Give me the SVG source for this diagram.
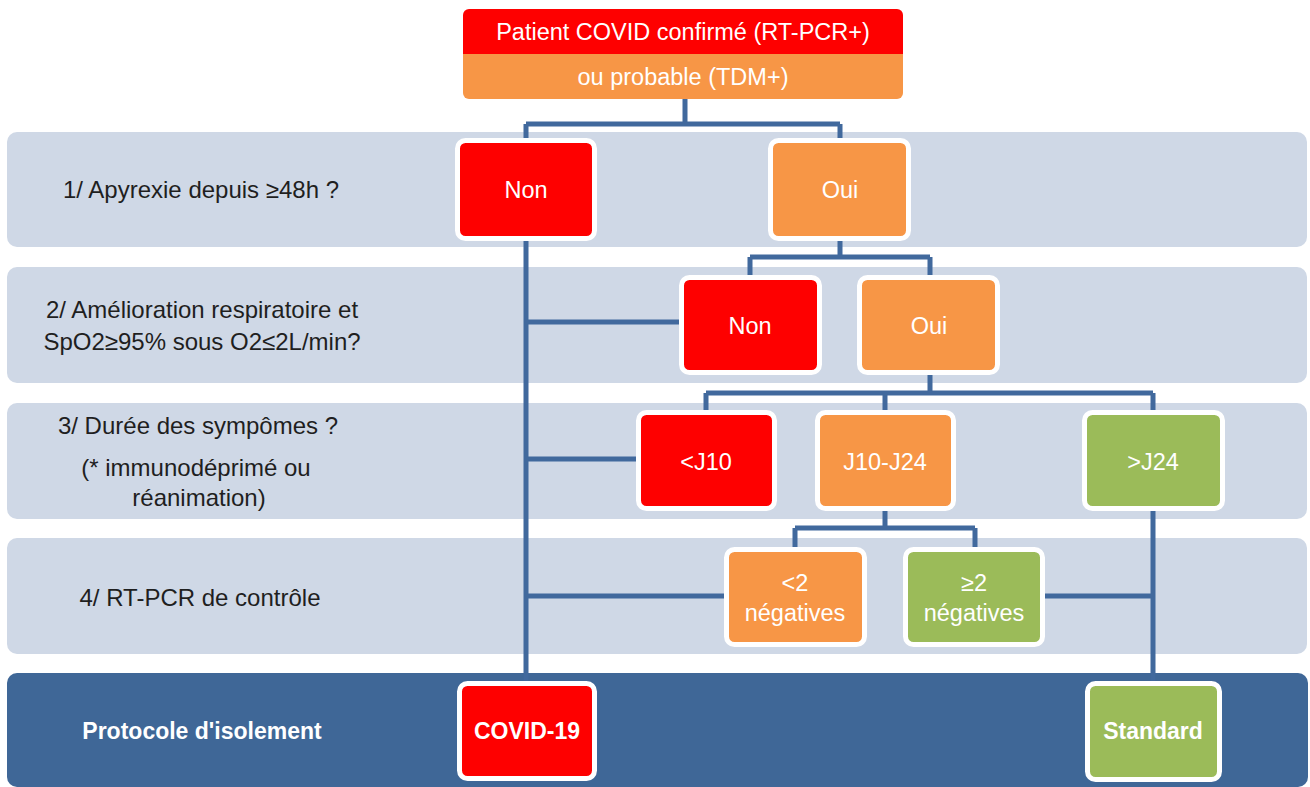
<svg xmlns="http://www.w3.org/2000/svg" width="1310" height="787" viewBox="0 0 1310 787">
<style>
.band{fill:#cfd8e6}
.bandd{fill:#3f6797}
.lbl{font-family:"Liberation Sans",Arial,sans-serif;font-size:24px;fill:#1f1f1f;text-anchor:middle}
.lblw{font-family:"Liberation Sans",Arial,sans-serif;font-size:23px;font-weight:bold;fill:#ffffff;text-anchor:middle}
.nt{font-family:"Liberation Sans",Arial,sans-serif;font-size:23.5px;fill:#ffffff;text-anchor:middle}
.ntb{font-family:"Liberation Sans",Arial,sans-serif;font-size:23px;font-weight:bold;fill:#ffffff;text-anchor:middle}
.red{fill:#fe0000;stroke:#ffffff;stroke-width:5}
.org{fill:#f79646;stroke:#ffffff;stroke-width:5}
.grn{fill:#9bbb59;stroke:#ffffff;stroke-width:5}
.con path{fill:none;stroke:#41699d;stroke-width:5}
</style>
<rect width="1310" height="787" fill="#ffffff"/>
<g id="bands">
<rect class="band" x="7" y="132" width="1300" height="115" rx="10"/>
<rect class="band" x="7" y="267" width="1300" height="116" rx="10"/>
<rect class="band" x="7" y="403" width="1300" height="116" rx="10"/>
<rect class="band" x="7" y="538" width="1300" height="116" rx="10"/>
<rect class="bandd" x="7" y="673" width="1301" height="114" rx="10"/>
</g>
<g id="labels">
<text class="lbl" x="201" y="198">1/ Apyrexie depuis ≥48h ?</text>
<text class="lbl" x="202" y="318">2/ Amélioration respiratoire et</text>
<text class="lbl" x="202" y="350">SpO2≥95% sous O2≤2L/min?</text>
<text class="lbl" x="198" y="434">3/ Durée des sympômes ?</text>
<text class="lbl" x="196" y="476">(* immunodéprimé ou</text>
<text class="lbl" x="199" y="506">réanimation)</text>
<text class="lbl" x="200" y="606">4/ RT-PCR de contrôle</text>
<text class="lblw" x="202" y="739">Protocole d'isolement</text>
</g>
<g id="connectors" class="con">
<path d="M685 99V124M526 124H840M526 124V140M840 124V140"/>
<path d="M526 238V684M526 322H682M526 459H639M526 596H727"/>
<path d="M840 238V257M750 257H930M750 257V277M930 257V277"/>
<path d="M930 373V393M706 393H1153M706 393V412M885 393V412M1153 393V412"/>
<path d="M885 509V528M795 528H975M795 528V549M975 528V549"/>
<path d="M1153 509V684M1042 596H1153"/>
</g>
<g id="header">
<path d="M463 54V15a6 6 0 0 1 6-6H897a6 6 0 0 1 6 6V54Z" fill="#fe0000"/>
<path d="M463 54H903V93a6 6 0 0 1-6 6H469a6 6 0 0 1-6-6Z" fill="#f79646"/>
<text class="nt" x="683" y="40">Patient COVID confirmé (RT-PCR+)</text>
<text class="nt" x="683" y="85">ou probable (TDM+)</text>
</g>
<g id="n-non1"><rect class="red" x="457.5" y="140.5" width="137" height="98" rx="8"/><text class="nt" x="526" y="198">Non</text></g>
<g id="n-oui1"><rect class="org" x="770.5" y="140.5" width="138" height="98" rx="8"/><text class="nt" x="840" y="198">Oui</text></g>
<g id="n-non2"><rect class="red" x="681.5" y="277.5" width="138" height="95" rx="8"/><text class="nt" x="750" y="334">Non</text></g>
<g id="n-oui2"><rect class="org" x="859.5" y="277.5" width="138" height="95" rx="8"/><text class="nt" x="929" y="334">Oui</text></g>
<g id="n-j10"><rect class="red" x="638.5" y="412.5" width="136" height="96" rx="8"/><text class="nt" x="706" y="470">&lt;J10</text></g>
<g id="n-j1024"><rect class="org" x="817.5" y="412.5" width="136" height="96" rx="8"/><text class="nt" x="885" y="470">J10-J24</text></g>
<g id="n-j24"><rect class="grn" x="1084.5" y="412.5" width="138" height="96" rx="8"/><text class="nt" x="1153" y="470">&gt;J24</text></g>
<g id="n-lt2"><rect class="org" x="726.5" y="549.5" width="138" height="95" rx="8"/><text class="nt" x="795" y="591">&lt;2</text><text class="nt" x="795" y="621">négatives</text></g>
<g id="n-ge2"><rect class="grn" x="905.5" y="549.5" width="137" height="95" rx="8"/><text class="nt" x="974" y="591">≥2</text><text class="nt" x="974" y="621">négatives</text></g>
<g id="n-covid"><rect class="red" x="459.5" y="683.5" width="135" height="95" rx="8"/><text class="ntb" x="527" y="739">COVID-19</text></g>
<g id="n-std"><rect class="grn" x="1087.5" y="683.5" width="132" height="96" rx="8"/><text class="ntb" x="1153" y="739">Standard</text></g>
</svg>
